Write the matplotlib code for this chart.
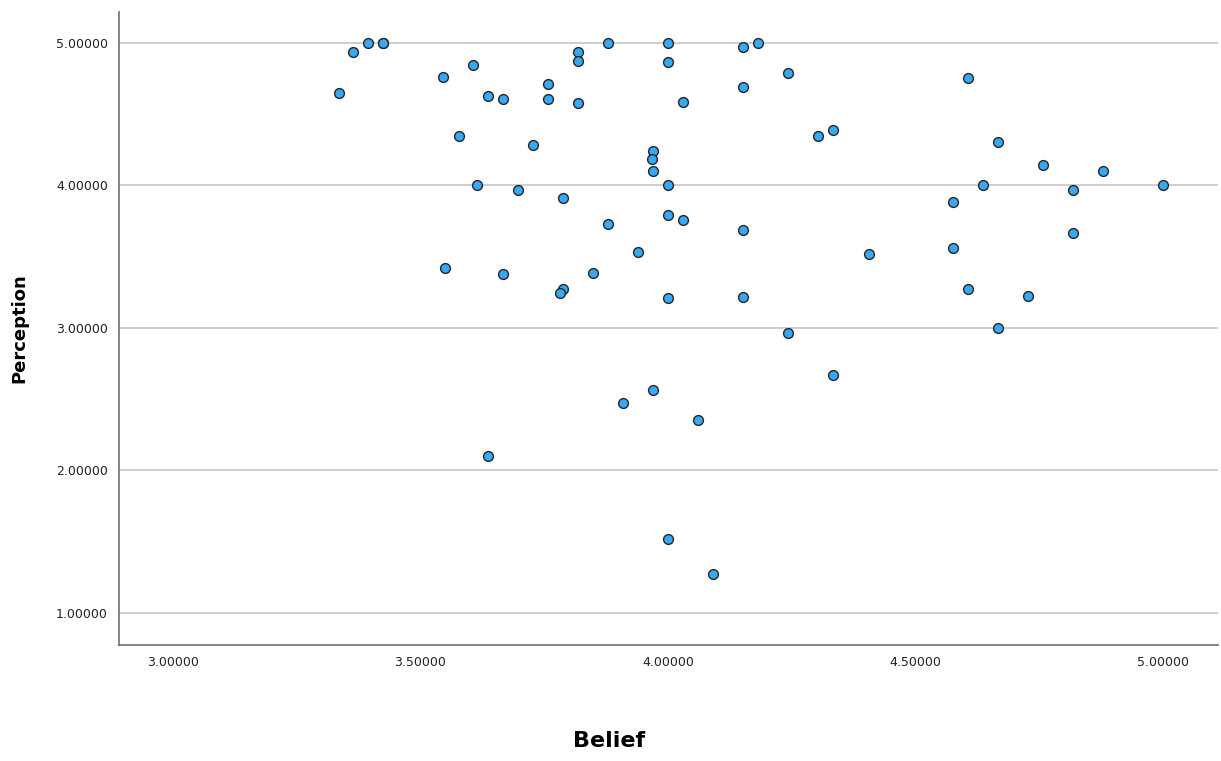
import matplotlib
matplotlib.use('Agg')
import matplotlib.pyplot as plt
from matplotlib.ticker import FormatStrFormatter

# Belief (x) and Perception (y)
belief = [3.335, 3.364, 3.394, 3.424, 3.424, 3.545, 3.606, 3.636, 3.667, 3.758,
          3.758, 3.818, 3.818, 3.818, 3.879, 3.578, 3.727, 3.614, 3.697, 3.788,
          3.879, 4.000, 4.000, 4.152, 4.182, 4.242, 4.152, 4.030, 4.303, 4.333,
          3.970, 3.968, 3.970, 4.000, 4.000, 4.030, 4.152, 3.549, 3.667, 3.788,
          3.782, 3.848, 3.939, 4.000, 4.152, 4.406, 4.242, 4.333, 3.970, 3.909,
          4.061, 4.818, 4.576, 4.606, 4.727, 4.667, 3.636, 4.000, 4.091, 4.606,
          4.667, 4.758, 4.879, 4.636, 4.818, 5.000, 4.576]
perception = [4.646, 4.933, 5.000, 5.000, 5.000, 4.758, 4.842, 4.625, 4.604, 4.709,
              4.604, 4.933, 4.870, 4.576, 5.000, 4.344, 4.281, 4.000, 3.965, 3.909,
              3.727, 5.000, 4.863, 4.968, 5.000, 4.786, 4.688, 4.583, 4.344, 4.386,
              4.239, 4.183, 4.099, 4.000, 3.790, 3.755, 3.685, 3.419, 3.377, 3.272,
              3.244, 3.384, 3.531, 3.208, 3.215, 3.517, 2.963, 2.668, 2.563, 2.472,
              2.353, 3.664, 3.559, 3.272, 3.222, 2.998, 2.100, 1.518, 1.272, 4.751,
              4.302, 4.141, 4.099, 4.000, 3.965, 4.000, 3.881]

xticks = [3.0, 3.5, 4.0, 4.5, 5.0]
yticks = [1.0, 2.0, 3.0, 4.0, 5.0]

fig = plt.figure(figsize=(12.21, 7.61), dpi=100)
ax = fig.add_axes([0.0975, 0.1524, 0.9, 0.8316])

ax.scatter(belief, perception, s=50, c='#36A9F2', edgecolors='#262626',
           linewidths=1.0, zorder=3)

ax.set_xlim(2.891, 5.111)
ax.set_ylim(0.775, 5.214)
ax.set_xticks(xticks)
ax.set_yticks(yticks)
ax.xaxis.set_major_formatter(FormatStrFormatter('%.5f'))
ax.yaxis.set_major_formatter(FormatStrFormatter('%.5f'))
ax.tick_params(length=0, labelsize=9, colors='#222222', pad=8)

ax.yaxis.grid(True, color='#c6c6c6', linewidth=1.2)
ax.set_axisbelow(True)

for side in ['top', 'right']:
    ax.spines[side].set_visible(False)
for side in ['left', 'bottom']:
    ax.spines[side].set_color('#707070')
    ax.spines[side].set_linewidth(1.2)

# x label sits centred on the whole figure, near the bottom
fig.text(0.499, 1 - 741 / 761, 'Belief', fontsize=16, fontweight='bold',
         ha='center', va='center')
ax.set_ylabel('Perception', fontsize=13, fontweight='bold', labelpad=20)

fig.savefig('out.png', dpi=100)
